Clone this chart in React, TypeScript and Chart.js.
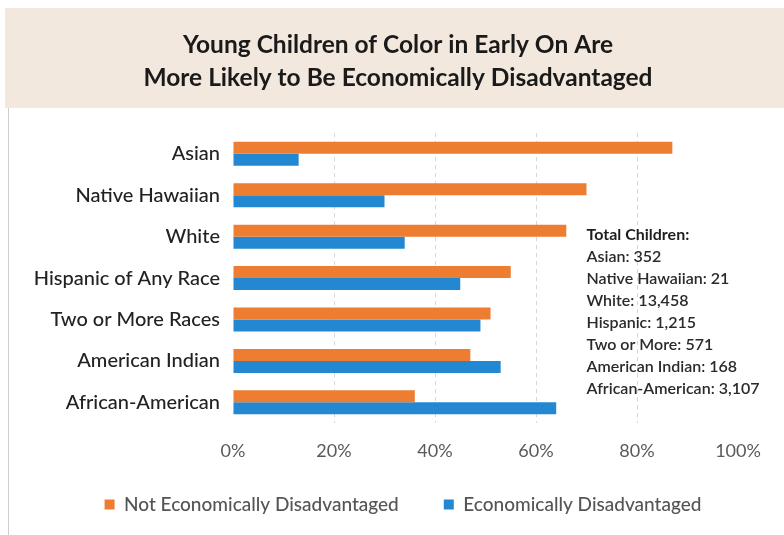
import React, { useEffect, useRef } from 'react';
import { Chart, registerables } from 'chart.js';

Chart.register(...registerables);

const titleLines = ['Young Children of Color in Early On Are', 'More Likely to Be Economically Disadvantaged'];
const categories = ['Asian', 'Native Hawaiian', 'White', 'Hispanic of Any Race', 'Two or More Races', 'American Indian', 'African-American'];
const notDisadvantaged = [87, 70, 66, 55, 51, 47, 36];
const disadvantaged = [13, 30, 34, 45, 49, 53, 64];
const seriesNames = ['Not Economically Disadvantaged', 'Economically Disadvantaged'];
const seriesColors = ['#ED7D31', '#2387D1'];
const xTickValues = [0, 20, 40, 60, 80, 100];
const totalsHeading = 'Total Children:';
const totalGroups = ['Asian', 'Native Hawaiian', 'White', 'Hispanic', 'Two or More', 'American Indian', 'African-American'];
const totalCounts = [352, 21, 13458, 1215, 571, 168, 3107];

const FONT = 'Lato, "Open Sans", sans-serif';

const backgroundPlugin = {
  id: 'pageBackground',
  beforeDraw(chart: any) {
    const { ctx, width, height } = chart;
    ctx.save();
    ctx.fillStyle = '#ffffff';
    ctx.fillRect(0, 0, width, height);
    ctx.fillStyle = '#f3e8de';
    ctx.fillRect(5, 8, width - 5, 100);
    ctx.strokeStyle = '#cfcfcf';
    ctx.lineWidth = 1;
    ctx.beginPath();
    ctx.moveTo(8.5, 108);
    ctx.lineTo(8.5, height);
    ctx.stroke();
    ctx.restore();
  },
};

const totalsPlugin = {
  id: 'totalsNote',
  afterDraw(chart: any) {
    const { ctx } = chart;
    const xs = chart.scales.x;
    const ys = chart.scales.y;
    const x = xs.getPixelForValue(70);
    const y0 = ys.getPixelForValue(2) - 2;
    const step = 22;
    ctx.save();
    ctx.textAlign = 'left';
    ctx.textBaseline = 'middle';
    ctx.fillStyle = '#1e1e1e';
    ctx.font = `bold 16px ${FONT}`;
    ctx.fillText(totalsHeading, x, y0);
    ctx.font = `600 16px ${FONT}`;
    ctx.fillStyle = '#2a2a2a';
    totalGroups.forEach((g, i) => {
      ctx.fillText(`${g}: ${totalCounts[i].toLocaleString('en-US')}`, x, y0 + step * (i + 1));
    });
    ctx.restore();
  },
};

// nudges the title and legend blocks so they sit where the original's do
const blockPlacePlugin = {
  id: 'blockPlace',
  afterLayout(chart: any) {
    const lg = chart.legend;
    if (lg) {
      lg.left += 24; lg.right += 24;
      lg.top -= 11; lg.bottom -= 11;
    }
    const tb = chart.titleBlock;
    if (tb) {
      tb.left += 19; tb.right += 19;
    }
  },
};

export default function App() {
  const ref = useRef<HTMLCanvasElement | null>(null);

  useEffect(() => {
    document.body.style.margin = '0';
    const canvas = ref.current;
    if (!canvas) return;
    const chart = new Chart(canvas, {
      type: 'bar',
      data: {
        labels: categories,
        datasets: [
          { label: seriesNames[0], data: notDisadvantaged, backgroundColor: seriesColors[0], borderWidth: 0 },
          { label: seriesNames[1], data: disadvantaged, backgroundColor: seriesColors[1], borderWidth: 0 },
        ],
      },
      options: {
        indexAxis: 'y',
        animation: false,
        responsive: false,
        devicePixelRatio: 1,
        layout: { padding: { left: 20, right: 46, top: 0, bottom: 0 } },
        datasets: { bar: { categoryPercentage: 0.58, barPercentage: 1 } },
        scales: {
          x: {
            min: 0,
            max: 100,
            afterBuildTicks: (s: any) => { s.ticks = xTickValues.map((v) => ({ value: v })); },
            afterFit: (s: any) => { s.height = 38; },
            ticks: {
              callback: (v: any) => `${v}%`,
              color: '#5a5a5a',
              font: { family: FONT, size: 18 },
              padding: 17,
            },
            grid: {
              drawTicks: false,
              color: (c: any) => (c.tick && (c.tick.value === 0 || c.tick.value === 100) ? 'rgba(0,0,0,0)' : '#d6d6d6'),
              lineWidth: 1,
            },
            border: { display: false, dash: [4, 4] },
          },
          y: {
            afterFit: (s: any) => { s.width = 213; },
            ticks: { color: '#222222', font: { family: FONT, size: 20, weight: '500' }, padding: 13 },
            grid: { display: false, drawTicks: false },
            border: { display: false },
          },
        },
        plugins: {
          title: {
            display: true,
            text: titleLines,
            color: '#1a1a1a',
            font: { family: FONT, size: 24.5, weight: 'bold', lineHeight: 1.35 },
            padding: { top: 28.5, bottom: 38.5 },
          },
          legend: {
            position: 'bottom',
            labels: {
              boxWidth: 10,
              boxHeight: 10,
              color: '#555555',
              font: { family: FONT, size: 19, weight: '500' },
              padding: 45,
            },
          },
          tooltip: { enabled: false },
        },
      },
      plugins: [backgroundPlugin, totalsPlugin, blockPlacePlugin],
    });
    return () => chart.destroy();
  }, []);

  return (
    <div style={{ position: 'relative', width: 784, height: 535 }}>
      <canvas ref={ref} width={784} height={535} />
    </div>
  );
}
